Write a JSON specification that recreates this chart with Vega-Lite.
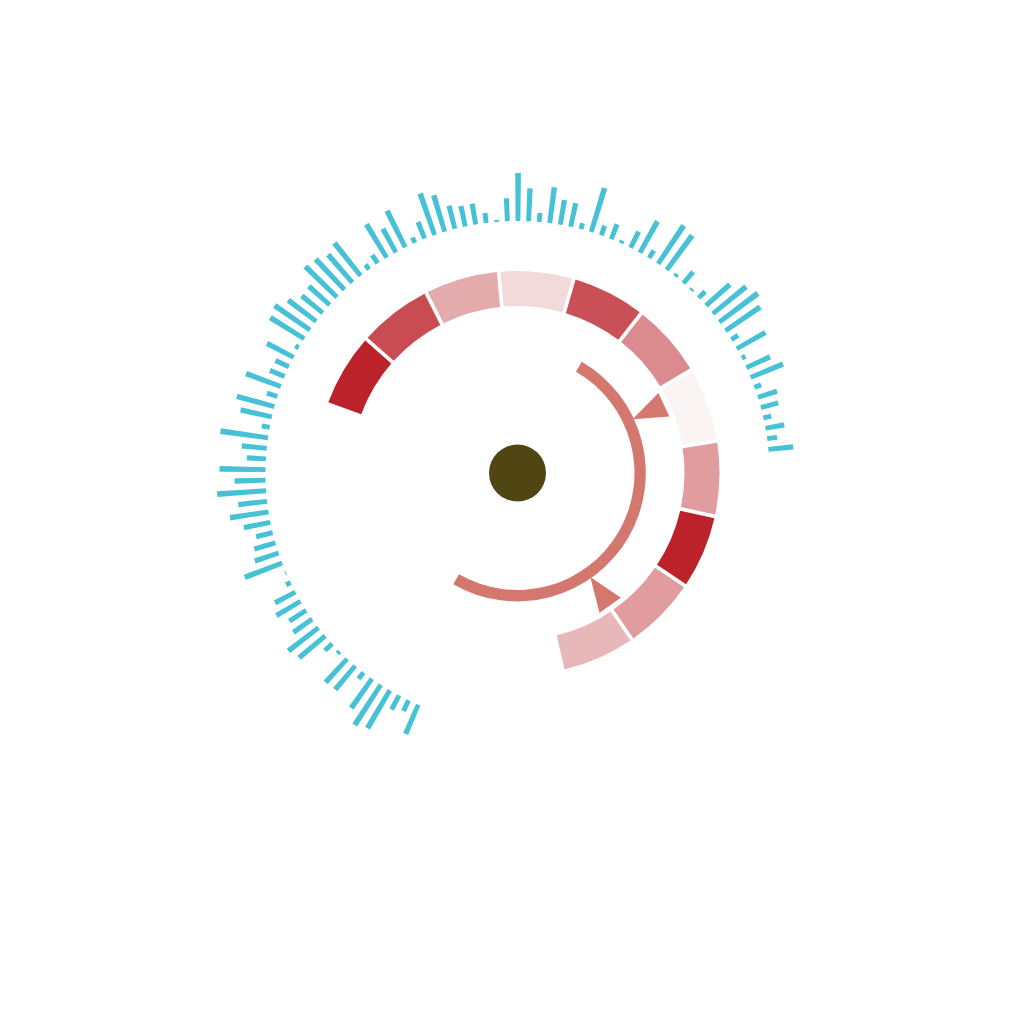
{
  "$schema": "https://vega.github.io/schema/vega-lite/v6.json",
  "autosize": {"type": "none"},
  "width": 1000,
  "height": 900,
  "padding": {"left": 17.5, "top": 23, "right": 6.5, "bottom": 101},
  "background": "white",
  "config": {"view": {"stroke": null}},
  "datasets": {
    "bars": [
      {"i":0,"v":32},{"i":1,"v":12},{"i":2,"v":16},{"i":3,"v":44},{"i":4,"v":48},{"i":5,"v":36},{"i":6,"v":8},{"i":7,"v":31},{"i":8,"v":32},{"i":9,"v":3},
      {"i":10,"v":10},{"i":11,"v":34},{"i":12,"v":38},{"i":13,"v":23},{"i":14,"v":20},{"i":15,"v":28},{"i":16,"v":23},{"i":17,"v":5},{"i":18,"v":1},{"i":19,"v":40},
      {"i":20,"v":25},{"i":21,"v":22},{"i":22,"v":17},{"i":23,"v":27},{"i":24,"v":39},{"i":25,"v":29},{"i":26,"v":49},{"i":27,"v":31},{"i":28,"v":46},{"i":29,"v":19},
      {"i":30,"v":25},{"i":31,"v":48},{"i":32,"v":8},{"i":33,"v":32},{"i":34,"v":39},{"i":35,"v":11},{"i":36,"v":37},{"i":37,"v":16},{"i":38,"v":15},{"i":39,"v":30},
      {"i":40,"v":4},{"i":41,"v":40},{"i":42,"v":43},{"i":43,"v":35},{"i":44,"v":27},{"i":45,"v":28},{"i":46,"v":44},{"i":47,"v":42},{"i":48,"v":37},{"i":49,"v":42},
      {"i":50,"v":6},{"i":51,"v":10},{"i":52,"v":39},{"i":53,"v":27},{"i":54,"v":41},{"i":55,"v":6},{"i":56,"v":18},{"i":57,"v":44},{"i":58,"v":38},{"i":59,"v":24},
      {"i":60,"v":21},{"i":61,"v":21},{"i":62,"v":10},{"i":63,"v":2},{"i":64,"v":23},{"i":65,"v":48},{"i":66,"v":33},{"i":67,"v":9},{"i":68,"v":36},{"i":69,"v":25},
      {"i":70,"v":24},{"i":71,"v":6},{"i":72,"v":46},{"i":73,"v":10},{"i":74,"v":16},{"i":75,"v":3},{"i":76,"v":18},{"i":77,"v":36},{"i":78,"v":9},{"i":79,"v":46},
      {"i":80,"v":43},{"i":81,"v":3},{"i":82,"v":15},{"i":83,"v":2},{"i":84,"v":9},{"i":85,"v":32},{"i":86,"v":43},{"i":87,"v":48},{"i":88,"v":42},{"i":89,"v":8},
      {"i":90,"v":33},{"i":91,"v":4},{"i":92,"v":26},{"i":93,"v":35},{"i":94,"v":7},{"i":95,"v":20},{"i":96,"v":18},{"i":97,"v":8},{"i":98,"v":19},{"i":99,"v":10},
      {"i":100,"v":25}
    ],
    "ring": [
      {"start":-70,"end":-48.45,"v":1.0},
      {"start":-48.45,"end":-26.9,"v":0.8},
      {"start":-26.9,"end":-5.35,"v":0.35},
      {"start":-5.35,"end":16.2,"v":0.13},
      {"start":16.2,"end":37.75,"v":0.78},
      {"start":37.75,"end":59.3,"v":0.5},
      {"start":59.3,"end":80.85,"v":0.0},
      {"start":80.85,"end":102.4,"v":0.42},
      {"start":102.4,"end":123.95,"v":1.0},
      {"start":123.95,"end":145.5,"v":0.42},
      {"start":145.5,"end":167.05,"v":0.29}
    ],
    "inner": [{"start":30,"end":210}],
    "pointers": [{"deg":65},{"deg":145}],
    "hub": [{"start":0,"end":360}]
  },
  "layer": [
    {
      "data": {"name": "bars"},
      "mark": {"type": "arc", "thetaOffset": -0.0095, "theta2Offset": 0.0095, "color": "#47c1d5"},
      "encoding": {
        "theta": {"field": "i", "type": "quantitative", "scale": {"domain": [0, 100], "range": [-2.7367, 1.4765]}},
        "theta2": {"field": "i"},
        "radius": {"field": "v", "type": "quantitative", "scale": {"type": "linear", "domain": [0, 50], "range": [252, 302]}},
        "radius2": {"value": 252}
      }
    },
    {
      "data": {"name": "ring"},
      "mark": {"type": "arc", "padAngle": 0.014, "radius": 202, "radius2": 167},
      "encoding": {
        "theta": {"field": "start", "type": "quantitative", "scale": {"domain": [0, 360], "range": [0, 6.283185]}},
        "theta2": {"field": "end"},
        "color": {"field": "v", "type": "quantitative", "scale": {"domain": [0, 1], "range": ["#faf4f4", "#bb2229"], "interpolate": "rgb"}, "legend": null}
      }
    },
    {
      "data": {"name": "inner"},
      "mark": {"type": "arc", "radius": 128.5, "radius2": 117, "color": "#d4776f"},
      "encoding": {
        "theta": {"field": "start", "type": "quantitative", "scale": {"domain": [0, 360], "range": [0, 6.283185]}},
        "theta2": {"field": "end"}
      }
    },
    {
      "data": {"name": "pointers"},
      "mark": {"type": "point", "shape": "M0,-127L13,-161.5L-13,-161.5Z", "size": 4, "filled": true, "opacity": 1, "color": "#d4776f", "strokeWidth": 0},
      "encoding": {
        "angle": {"field": "deg", "type": "quantitative", "scale": null}
      }
    },
    {
      "data": {"name": "hub"},
      "mark": {"type": "arc", "radius": 28.5, "color": "#504614"},
      "encoding": {
        "theta": {"field": "start", "type": "quantitative", "scale": {"domain": [0, 360], "range": [0, 6.283185]}},
        "theta2": {"field": "end"}
      }
    }
  ],
  "resolve": {"scale": {"theta": "independent", "radius": "independent", "color": "independent"}}
}
